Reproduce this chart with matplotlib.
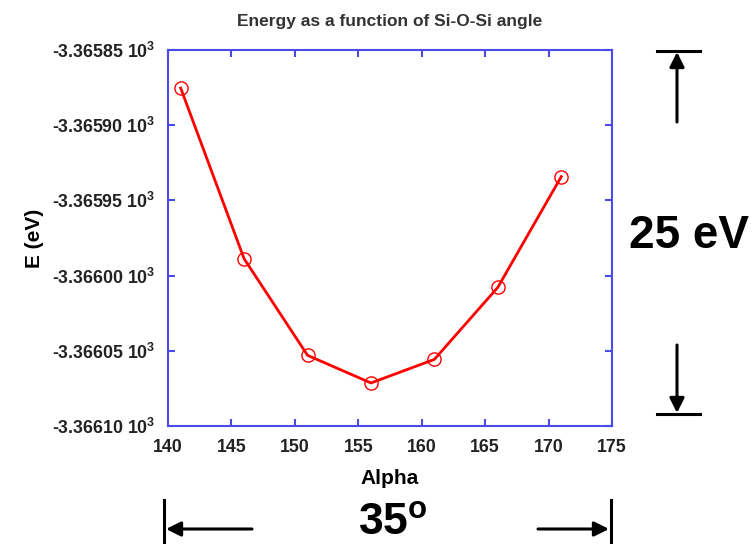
import matplotlib
matplotlib.use("Agg")
import matplotlib.pyplot as plt
import numpy as np
from matplotlib.lines import Line2D
from matplotlib.patches import FancyArrowPatch
from matplotlib.ticker import FuncFormatter, MultipleLocator

plt.rcParams['font.family'] = ['Liberation Sans', 'DejaVu Sans']
plt.rcParams['font.weight'] = 'bold'
plt.rcParams['mathtext.fontset'] = 'custom'
plt.rcParams['mathtext.rm'] = 'Liberation Sans:bold'
plt.rcParams['mathtext.default'] = 'rm'

# Si-O-Si angle (deg) and total energy (eV)
alpha = [141, 146, 151, 156, 161, 166, 171]
energy = [-3365.8753, -3365.9888, -3366.0530, -3366.0714, -3366.0557, -3366.0078, -3365.9342]

W, H = 754, 544
fig = plt.figure(figsize=(W / 100, H / 100), dpi=100)
ax = fig.add_axes([168 / W, 1 - 426 / H, (612 - 168) / W, (426 - 50) / H])

ax.plot(alpha, energy, color='red', lw=2, marker='o', ms=9.5,
        mfc='none', mec='red', mew=1)

ax.set_xlim(140, 175)
ax.set_ylim(-3366.10, -3365.85)
ax.xaxis.set_major_locator(MultipleLocator(5))
ax.yaxis.set_major_locator(MultipleLocator(0.05))

def fmt(v, pos):
    return '%.5f $10^{3}$' % (v / 1000.0)

ax.yaxis.set_major_formatter(FuncFormatter(fmt))

blue = '#4b4bea'
for s in ax.spines.values():
    s.set_color(blue)
    s.set_linewidth(1.5)
ax.tick_params(direction='in', length=5, width=1.5, color=blue,
               top=True, right=True, labelsize=12.8)
ax.tick_params(axis='y', pad=9)
ax.tick_params(axis='x', pad=9)
for lab in ax.get_xticklabels() + ax.get_yticklabels():
    lab.set_fontweight('bold')
    lab.set_color('#222222')

ax.set_xlabel('Alpha', fontsize=15, fontweight='bold', labelpad=10)
ax.set_ylabel('E (eV)', fontsize=15, fontweight='bold', labelpad=6)
ax.set_title('Energy as a function of Si-O-Si angle', fontsize=12.5,
             fontweight='bold', color='#333333', pad=17)

def px(x, y):
    return (x / W, 1 - y / H)

def bar(x0, y0, x1, y1):
    (a, b), (c, d) = px(x0, y0), px(x1, y1)
    fig.add_artist(Line2D([a, c], [b, d], transform=fig.transFigure,
                          color='black', lw=2.2))

def arrow(x0, y0, x1, y1):
    fig.add_artist(FancyArrowPatch(px(x0, y0), px(x1, y1),
                                   transform=fig.transFigure,
                                   arrowstyle='-|>', mutation_scale=22,
                                   color='black', lw=2.2,
                                   shrinkA=0, shrinkB=0))

# 25 eV bracket
bar(657, 51, 700, 51)
arrow(677, 122, 677, 52)
bar(657, 414, 700, 414)
arrow(677, 345, 677, 413)
fig.text(*px(689, 236), '25 eV', fontsize=33, fontweight='bold',
         ha='center', va='center')

# 35 deg bracket
bar(164, 500, 164, 543)
arrow(252, 529, 166, 529)
bar(611, 500, 611, 543)
arrow(538, 529, 609, 529)
fig.text(*px(393, 523), '35$^{o}$', fontsize=32, fontweight='bold',
         ha='center', va='center')

fig.savefig('out.png', dpi=100)
